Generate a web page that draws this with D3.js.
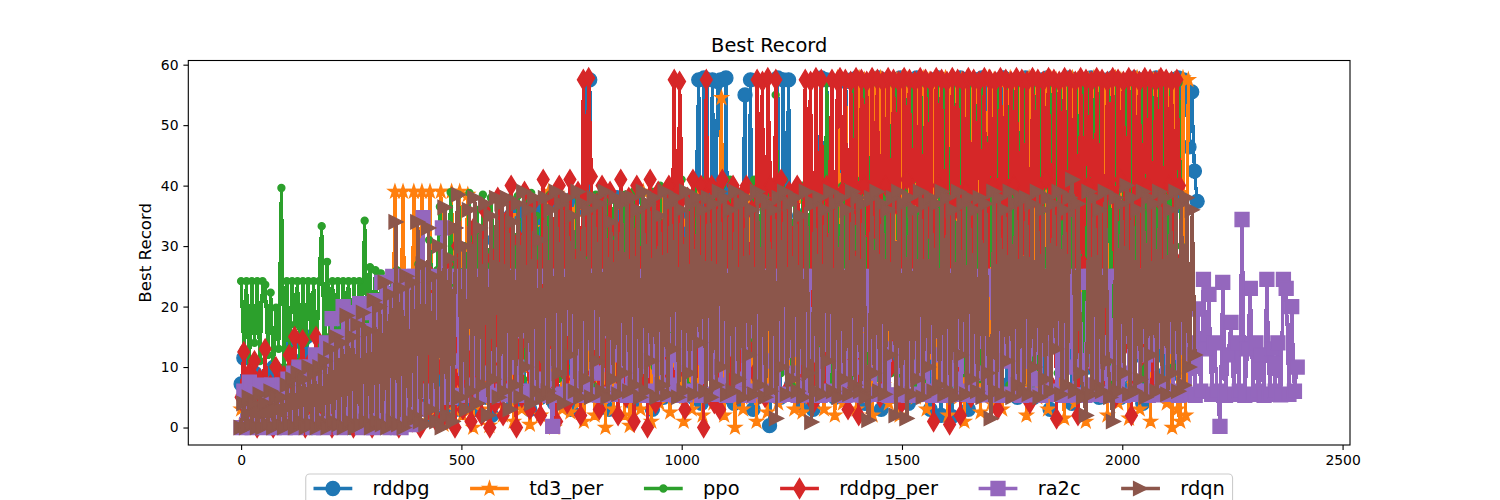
<!DOCTYPE html>
<html>
<head>
<meta charset="utf-8">
<script src="https://cdn.jsdelivr.net/npm/d3@7"></script>
<style>
  body { margin: 0; background: #fff; }
  svg { font-family: "DejaVu Sans", sans-serif; }
</style>
</head>
<body>
<div id="chart"></div>
<script>
// series names, colours, and how many episodes each run recorded
const seriesNames = ['rddpg', 'td3_per', 'ppo', 'rddpg_per', 'ra2c', 'rdqn'];
const seriesColors = ['#1f77b4', '#ff7f0e', '#2ca02c', '#d62728', '#9467bd', '#8c564b'];
const lastEpisode = [2170, 2150, 2140, 2130, 2397, 2165];
const xTicks = [0, 500, 1000, 1500, 2000, 2500];
const yTicks = [0, 10, 20, 30, 40, 50, 60];

const rddpg = [
  7.2, 11.5, 3, 6, 1, 9, 4, 8, 2, 5, 8, 0, 10, 3, 6, 9,
  2, 9, 5, 14, 1, 7, 11, 3, 15, 6, 0, 10, 4, 12, 2, 8,
  5, 13, 1, 9, 16, 3, 7, 11, 0, 14, 6, 2, 10, 17, 4, 8,
  12, 1, 6, 18, 3, 9, 15, 0, 11, 5, 19, 2, 8, 14, 4, 20,
  1, 10, 22, 3, 7, 16, 1.5, 12, 24, 5, 9, 2, 18, 6, 25, 3,
  14, 27, 4, 20, 8, 30, 3, 17, 11, 28, 5, 22, 2, 31, 9, 15,
  33, 6, 19, 35, 4, 26, 10, 36, 7, 23, 3, 34, 13, 37, 5, 21,
  38, 9, 29, 4, 37, 15, 6, 33, 24, 3, 38, 11, 30, 7, 36, 57.5,
  57.5, 8, 36, 5, 27, 37, 12, 3, 32, 18, 38, 6, 25, 35, 9, 30,
  4, 38, 14, 29, 7, 36, 21, 3, 37, 10, 33, 5, 26, 38, 8, 31,
  6, 38, 12, 35, 9, 30, 5, 37, 57.5, 4, 57.8, 57.5, 9, 57.5, 30, 57.2,
  57.5, 5, 57.8, 12, 36, 4, 20, 8, 33, 55, 6, 57.5, 3, 25, 9, 31,
  9, 36, 0.3, 22, 14, 57.8, 5, 57.5, 25, 57.5, 7, 30, 12, 35, 4, 18,
  10, 33, 3, 27, 35, 57.8, 8, 57.5, 19, 30, 5, 37, 57.5, 12, 57.2, 6,
  57.5, 20, 57.8, 7, 57.5, 4, 57.2, 30, 57.5, 9, 57.8, 3, 57.5, 26, 57.2, 11,
  57.5, 5, 57.8, 30, 57.2, 4, 57.5, 12, 57.8, 8, 57.5, 36, 57.2, 3, 57.5, 18,
  57.8, 2, 57.5, 8, 57.2, 1.8, 57.5, 25, 57.8, 6, 57.5, 3, 57.2, 14, 57.5, 9,
  57.8, 6, 57.5, 11, 57.2, 4, 57.5, 33, 57.8, 7, 57.5, 22, 57.2, 5, 57.5, 10,
  57.8, 7, 57.5, 5, 57.2, 18, 57.5, 9, 57.8, 3, 57.5, 28, 57.2, 6, 57.5, 14,
  57.8, 4, 57.5, 28, 57.2, 6, 57.5, 10, 57.8, 35, 57.5, 5, 57.2, 16, 57.5, 8,
  57.8, 8, 57.5, 5, 57.2, 36, 57.5, 7, 57.8, 12, 57.5, 4, 57.2, 24, 57.5, 9,
  57.8, 12, 57.5, 6, 57.2, 30, 57.5, 9, 57.8, 55.5, 57.5, 53.8, 46.4, 55.5, 42.4, 37.4
];

const td3_per = [
  3, 5, 1, 4, 0, 6, 2, 3, 5, 1, 7, 0, 4, 2, 6, 1,
  3, 0, 5, 2, 8, 1, 4, 6, 0, 3, 7, 2, 5, 1, 9, 3,
  0, 6, 2, 10, 4, 1, 8, 3, 0, 5, 11, 2, 7, 1, 4, 9,
  2, 12, 0, 6, 3, 15, 1, 8, 4, 39, 2, 10, 39, 5, 14, 3,
  39, 1, 18, 39, 6, 2, 39, 11, 4, 20, 39, 0.5, 9, 15, 39, 3,
  7, 39, 2, 22, 38.5, 5, 0, 13, 27, 3, 18, 8, 0.3, 24, 11, 4,
  30, 2, 16, 6, 35, 1, 21, 9, 3, 28, 14, 0.5, 33, 7, 19, 2,
  25, 5, 39, 11, 0, 38.7, 18, 3, 30, 8, 2.5, 22, 36, 4, 15, 1,
  27, 6, 34, 2, 19, 9, 38, 0, 24, 13, 3, 31, 7, 37, 2, 17,
  0.3, 35, 10, 26, 3, 39, 6, 20, 1, 32, 14, 4, 37, 8, 23, 2.5,
  29, 5, 38, 11, 1, 34, 17, 3, 26, 8, 39, 2, 21, 13, 36, 4,
  30, 9, 54.5, 2, 24, 6, 37, 0, 35, 15, 3, 28, 39, 5, 19, 1,
  31, 7, 37, 2.5, 23, 11, 35, 4, 36, 14, 28, 6, 27, 3, 38, 10,
  2.5, 33, 22, 5, 36, 37, 8, 30, 3, 30, 38, 12, 2, 57.8, 26, 4,
  57.5, 9, 57.2, 30, 3, 57.8, 15, 57.5, 6, 57.2, 2, 57.5, 24, 57.8, 7, 57.5,
  4, 57.2, 19, 57.5, 2, 57.8, 33, 57.5, 8, 57.2, 5, 57.5, 27, 57.8, 3, 57.5,
  12, 57.2, 6, 57.5, 36, 57.8, 2, 57.5, 18, 57.2, 5, 57.5, 1, 57.8, 25, 57.5,
  7, 57.2, 2.5, 57.5, 28, 57.8, 4, 57.5, 13, 57.2, 3, 57.5, 31, 57.8, 6, 57.5,
  57.2, 9, 57.5, 2, 57.8, 35, 57.5, 5, 57.2, 16, 57.5, 3, 57.8, 22, 57.5, 7,
  57.2, 1.5, 57.5, 20, 57.8, 4, 57.5, 11, 57.2, 1, 57.5, 29, 57.8, 6, 57.5, 8,
  57.2, 2, 57.5, 14, 57.8, 4, 57.5, 33, 57.2, 1.5, 57.5, 7, 57.8, 3, 57.5, 25,
  57.2, 1, 57.5, 18, 57.8, 38.4, 57.5, 4, 57.2, 0, 57.5, 3, 1, 57.8, 2, 57.5
];

const ppo = [
  24.2, 13, 24.2, 9, 24.2, 14, 24.2, 11, 24.2, 23.6, 12, 22.3, 10, 19.8, 13, 39.6,
  10, 24.2, 13, 24.2, 17, 24.2, 11, 24.2, 14, 24.2, 15, 24.2, 9, 24.2, 33.3, 12,
  27.4, 15, 24.2, 16, 24.2, 13, 24.2, 18, 24.2, 14, 24.2, 12, 24.2, 16, 34.2, 15,
  26.5, 14, 26, 12, 25.5, 18, 24.2, 13, 25, 15, 26, 12, 25.5, 20, 24.2, 14,
  13, 25, 27, 16, 25, 9, 31, 25, 14, 26, 36.5, 12, 25, 19, 38.9, 15,
  24, 38.5, 11, 30, 18, 38.8, 10, 26, 36, 14, 38.5, 22, 9, 38, 28, 13,
  38.5, 17, 33, 9, 38, 24, 12, 38.3, 29, 8, 37.5, 20, 38.8, 11, 35, 16,
  38, 7, 27, 38.5, 13, 34, 8, 38.2, 21, 10, 38, 30, 6, 38.5, 17, 25,
  9, 38, 31, 7, 38.5, 19, 36, 12, 38.2, 8, 26, 38, 15, 33, 6, 38.5,
  22, 9, 39, 28, 12, 38.5, 7, 35, 18, 39, 10, 30, 40, 6, 24, 38,
  14, 40, 8, 33, 41, 19, 7, 38, 27, 40, 11, 35, 6, 41, 22, 12,
  39, 9, 30, 40, 15, 7, 41, 25, 38, 10, 36, 6, 40, 19, 13, 41,
  8, 28, 40, 11, 40, 19, 6, 55, 35, 9, 41, 14, 38, 7, 38, 24,
  10, 40, 33, 6, 41, 20, 39, 8, 39, 13, 57, 27, 7, 40, 38, 11,
  40, 15, 38, 7, 57, 24, 10, 41, 57, 6, 30, 57, 12, 39, 8, 57,
  20, 57, 9, 40, 57, 14, 6, 57, 33, 11, 57, 7, 41, 57, 18, 8,
  57, 27, 6, 57, 39, 10, 57, 15, 41, 57, 7, 22, 57, 9, 38, 57,
  12, 57, 35, 8, 57, 11, 40, 57, 6, 28, 57, 14, 39, 57, 7, 57,
  22, 57, 9, 39, 57, 13, 7, 57, 41, 10, 57, 25, 6, 57, 36, 57,
  9, 57, 29, 12, 57, 40, 6, 57, 18, 57, 8, 38, 57, 11, 57, 31,
  57, 10, 38, 57, 7, 41, 57, 25, 9, 57, 33, 6, 57, 14, 40, 57,
  8, 57, 36, 57, 12, 40, 57, 7, 57, 22, 57, 10, 39, 57, 30, 16
];

const rddpg_per = [
  5, 12.5, 3, 9, 1, 11, 0, 8, 4, 13, 2, 7, 0, 10, 3, 6,
  8.5, 1, 12, 4, 15, 2, 9, 14.5, 0, 7, 11, 3, 15, 1, 6, 10,
  2, 13, 0, 8, 5, 14, 1, 9, 3, 12, 0, 6, 10, 2, 15, 4,
  9, 0, 13, 3, 16, 1, 7, 11, 2, 18, 5, 0, 14, 3, 9, 20,
  1, 12, 22, 0, 8, 17, 3, 25, 6, 1, 19, 10, 2, 27, 5, 14,
  0, 30, 8, 3, 23, 12, 1, 33, 6, 18, 2, 36, 9, 0, 28, 4,
  38, 11, 2, 34, 7, 40, 15, 0, 31, 5, 39, 21, 3, 37, 9, 26,
  2, 41, 13, 6, 38, 24, 1, 40, 10, 35, 4, 41, 17, 8, 39, 2,
  57.5, 30, 57.8, 41.5, 9, 37, 3, 40, 18, 6, 39, 12, 33, 2, 41, 22,
  5, 38, 14, 1, 40, 27, 8, 36, 0, 41, 19, 4, 39, 11, 33, 6,
  40, 21, 57.5, 9, 57.2, 38, 3, 38, 15, 41, 6, 30, 40, 0, 57.5, 12,
  40, 4, 39, 3, 41, 18, 36, 8, 40, 25, 38, 7, 39, 40, 13, 36,
  9, 57.5, 38, 57.2, 5, 57.8, 40, 20, 57.5, 11, 41, 36, 6, 39, 30, 14,
  40, 28, 8, 57.5, 38, 57.2, 4, 57.8, 23, 57.5, 7, 40, 38, 57.5, 12, 57.2,
  57.8, 39, 57.5, 3, 57.2, 28, 57.8, 2, 57.5, 40, 57.2, 9, 57.8, 33, 57.5, 5,
  57.2, 40, 57.8, 10, 57.5, 37, 57.2, 4, 57.8, 41, 57.5, 15, 57.2, 38, 57.8, 6,
  57.5, 33, 57.2, 1, 57.8, 40, 57.5, 8, 57.2, 0.5, 57.8, 36, 57.5, 2, 57.2, 39,
  57.8, 5, 57.5, 37, 57.2, 22, 57.8, 9, 57.5, 40, 57.2, 3, 57.8, 31, 57.5, 12,
  57.2, 40, 57.8, 9, 57.5, 30, 57.2, 4, 57.8, 38, 57.5, 15, 57.2, 41, 57.8, 7,
  57.5, 1.5, 57.2, 36, 57.8, 6, 57.5, 39, 57.2, 2, 57.8, 27, 57.5, 40, 57.2, 10,
  57.8, 25, 57.5, 8, 57.2, 39, 57.8, 5, 57.5, 41, 57.2, 14, 57.8, 2, 57.5, 37,
  57.2, 12, 57.8, 40, 57.5, 7, 57.2, 38, 57.8, 20, 57.5, 40, 57.2, 28, 57.5, 40
];

const ra2c = [
  0, 6, 0.5, 7.5, 0, 6, 1, 7, 0, 5, 0.5, 7, 0, 6, 1, 7,
  0, 8, 0.5, 9, 0, 10, 1, 9, 0.5, 10, 0, 12, 1, 9, 0, 14,
  0.5, 18, 1, 15, 0, 20, 2, 19, 0.5, 17, 1, 20.5, 0, 16, 2, 19,
  0, 21, 1, 24, 0.5, 22, 0, 25, 2, 23, 0, 25, 1, 24, 0.5, 25,
  3, 25, 34.7, 6, 24, 20, 4, 25, 16, 33, 5.5, 25, 5, 22, 25, 11,
  5.3, 24, 18, 25, 7, 14, 25, 5.5, 21, 25, 9, 5.3, 23, 25, 12, 6,
  25, 5.4, 19, 25, 10, 5.3, 24, 16, 25, 6, 21, 5.5, 25, 13, 8, 25,
  5.3, 0.2, 25, 11, 24, 5.5, 18, 25, 6, 22, 5.3, 25, 14, 7, 25, 5.4,
  25, 9, 21, 5.3, 25, 16, 5.5, 24, 12, 25, 6, 19, 5.3, 25, 8, 23,
  5.4, 25, 13, 5.3, 24, 20, 6, 25, 10, 5.5, 25, 17, 7, 24, 5.3, 25,
  11, 5.4, 25, 22, 6, 25, 15, 5.3, 24, 9, 25, 5.5, 19, 25, 7, 25,
  5.3, 25, 13, 24, 5.5, 25, 8, 20, 5.3, 25, 16, 6, 25, 11, 5.4, 24,
  25, 6, 22, 5.3, 25, 15, 5.5, 25, 9, 24, 5.3, 18, 25, 7, 25, 5.4,
  24, 12, 5.3, 25, 20, 6, 25, 5.5, 14, 25, 8, 5.3, 24, 25, 10, 5.4,
  25, 17, 5.3, 24, 9, 25, 5.5, 21, 25, 6, 13, 5.3, 25, 19, 5.4, 25,
  7, 25, 5.3, 23, 25, 10, 5.5, 25, 16, 6, 24, 5.3, 25, 12, 5.4, 25,
  5.3, 25, 8, 21, 25, 5.5, 14, 25, 6, 24, 5.3, 18, 25, 9, 5.4, 25,
  25, 6, 24, 5.3, 25, 11, 17, 5.5, 25, 7, 22, 5.3, 25, 13, 5.4, 24,
  8, 25, 5.3, 22, 25, 6, 15, 25, 5.5, 19, 25, 5.3, 10, 25, 5.4, 24,
  25, 11, 5.3, 24, 25, 7, 20, 5.5, 25, 14, 5.3, 25, 9, 5.4, 25, 16,
  5.3, 25, 9, 25, 5.5, 23, 6, 25, 12, 5.3, 24, 18, 5.4, 25, 7, 25,
  5.5, 24, 6, 25, 5.3, 23, 6, 25, 5.5, 14, 5.3, 19.6, 6, 24.5, 13, 22,
  5.5, 14, 6, 0.2, 24, 5.3, 12, 17.4, 5.5, 14, 6, 34.4, 5.3, 13, 23, 5.5,
  14, 6, 12, 5.3, 24.5, 5.5, 13, 6, 14, 5.4, 24.5, 23, 5.5, 20, 6, 10
];

const rdqn = [
  0, 4, 0, 5, 0.5, 4, 0, 5.5, 0, 4, 0.5, 6, 0, 5, 0.5, 5,
  0, 7, 0.5, 8, 0, 9, 1, 8, 0, 10, 0.5, 9, 0, 10, 1, 11,
  0, 13, 1, 15, 0.5, 14, 0, 18.5, 1, 15, 0, 17, 0.5, 19, 1, 16,
  0, 21, 1, 20, 0.5, 24, 0, 22, 1, 34, 0.5, 23, 0, 25, 1, 24,
  2, 34, 1, 27, 0.5, 33, 3, 25, 1, 30, 0, 36.4, 2, 28, 1, 33,
  38.5, 5, 30, 3, 36, 6, 38, 4, 33, 7, 37, 2, 35, 8, 38, 5,
  37, 6, 38, 3, 34, 7, 37, 5, 39, 10, 36, 4, 38, 6, 31, 5,
  38, 6, 36, 5, 39, 9, 37, 4, 38, 12, 35, 6, 39, 5, 37, 8,
  36, 5, 38, 11, 37, 6, 39, 5, 34, 8, 38, 5.5, 37, 9, 38, 6,
  38, 7, 36, 5, 39, 6, 37, 11, 38, 5, 35, 7, 39, 5.5, 37, 13,
  38, 5, 36, 6, 39, 9, 37, 5.5, 38, 14, 36, 6, 38, 5, 37, 7,
  39, 10, 38, 5.5, 36, 6, 39, 8, 37, 5, 38, 12, 36, 5.5, 39, 7,
  38, 5, 37, 6, 36, 1.5, 38, 10, 39, 5.5, 37, 8, 38, 6, 35, 5,
  39, 9, 0.9, 37, 6, 38, 5.5, 36, 11, 39, 6, 37, 5, 38, 8, 36,
  5.5, 39, 7, 38, 6, 37, 5, 1.2, 38, 9, 39, 6, 37, 5.5, 36, 12,
  38, 2, 39, 6, 37, 1.5, 38, 5.5, 36, 8, 39, 5, 37, 10, 38, 6,
  37, 7, 39, 5.5, 38, 6, 36, 5, 39, 12, 37, 5.5, 38, 8, 36, 6,
  38, 5, 37, 9, 1.5, 39, 6, 38, 5.5, 36, 11, 39, 5, 37, 7, 38,
  6, 38, 5.5, 37, 10, 39, 5, 36, 8, 38, 6, 37, 13, 39, 5.5, 36,
  7, 38, 41, 6, 37, 9, 5, 2, 39, 5.5, 38, 7, 36, 6, 39, 11,
  5, 1, 38, 6, 37, 9, 40, 5.5, 38, 6, 36, 8, 39, 5, 38, 12,
  37, 6, 39, 8, 38, 5.5, 36, 9, 39, 6, 37, 7, 38, 10, 36, 12
];

const seriesValues = [rddpg, td3_per, ppo, rddpg_per, ra2c, rdqn];

const width = 1500, height = 500;
const plot = { left: 188.3, right: 1350, top: 60.5, bottom: 445 };
const ms = 13.9;   // marker size (10pt)
const lw = 3.3;    // line width

// episodes are spread evenly over each run
const series = seriesNames.map((name, k) => {
  const vals = seriesValues[k];
  const n = vals.length;
  return {
    name,
    color: seriesColors[k],
    points: vals.map((v, i) => ({ ep: i * lastEpisode[k] / (n - 1), v }))
  };
});

// matplotlib-like 5% margins
const allEp = series.flatMap(s => s.points.map(p => p.ep));
const allV = series.flatMap(s => s.points.map(p => p.v));
const [ex0, ex1] = d3.extent(allEp);
const [vy0, vy1] = d3.extent(allV);
const xPad = (ex1 - ex0) * 0.05, yPad = (vy1 - vy0) * 0.05;

const x = d3.scaleLinear().domain([ex0 - xPad, ex1 + xPad]).range([plot.left, plot.right]);
const y = d3.scaleLinear().domain([vy0 - yPad, vy1 + yPad]).range([plot.bottom, plot.top]);

// marker shapes, centred on 0,0
const starPath = (r) => {
  const inner = r * 0.381966;
  let d = '';
  for (let i = 0; i < 10; i++) {
    const rr = i % 2 === 0 ? r : inner;
    const a = -Math.PI / 2 + i * Math.PI / 5;
    d += (i === 0 ? 'M' : 'L') + (rr * Math.cos(a)).toFixed(2) + ',' + (rr * Math.sin(a)).toFixed(2);
  }
  return d + 'Z';
};
const circlePath = (r) => `M${-r},0A${r},${r} 0 1,0 ${r},0A${r},${r} 0 1,0 ${-r},0Z`;
const markerShapes = [
  circlePath(ms / 2),
  starPath(ms / 2),
  circlePath(ms / 4),
  (() => { const h = 0.7071 * ms, w = 0.6 * h; return `M0,${-h}L${w},0L0,${h}L${-w},0Z`; })(),
  (() => { const h = ms / 2; return `M${-h},${-h}L${h},${-h}L${h},${h}L${-h},${h}Z`; })(),
  (() => { const h = ms / 2; return `M${h},0L${-h},${-h}L${-h},${h}Z`; })()
];

const svg = d3.select('#chart')
  .append('svg')
  .attr('width', width)
  .attr('height', height);

svg.append('defs').append('clipPath').attr('id', 'clip')
  .append('rect')
  .attr('x', plot.left).attr('y', plot.top)
  .attr('width', plot.right - plot.left).attr('height', plot.bottom - plot.top);

const line = d3.line().x(d => x(d.ep)).y(d => y(d.v));

const layer = svg.append('g').attr('clip-path', 'url(#clip)');

series.forEach((s, k) => {
  const g = layer.append('g');
  // crisp edges so the dense zigzag reads as a solid band, as in the original
  g.append('path')
    .datum(s.points)
    .attr('d', line)
    .attr('fill', 'none')
    .attr('stroke', s.color)
    .attr('stroke-width', lw)
    .attr('stroke-linejoin', 'round')
    .attr('stroke-linecap', 'square')
    .attr('shape-rendering', 'crispEdges');
  g.selectAll('path.mk')
    .data(s.points)
    .enter()
    .append('path')
    .attr('class', 'mk')
    .attr('d', markerShapes[k])
    .attr('transform', d => `translate(${x(d.ep)},${y(d.v)})`)
    .attr('fill', s.color)
    .attr('stroke', s.color)
    .attr('stroke-width', 1.39);
});

// axes
const xAxis = svg.append('g')
  .attr('transform', `translate(0,${plot.bottom})`)
  .call(d3.axisBottom(x).tickValues(xTicks).tickFormat(d3.format('d')).tickSize(4.9).tickPadding(4.9));
const yAxis = svg.append('g')
  .attr('transform', `translate(${plot.left},0)`)
  .call(d3.axisLeft(y).tickValues(yTicks).tickFormat(d3.format('d')).tickSize(4.9).tickPadding(4.9));
[xAxis, yAxis].forEach(a => {
  a.select('.domain').remove();
  a.selectAll('line').attr('stroke', '#000').attr('stroke-width', 1.1);
  a.selectAll('text').attr('fill', '#000').attr('font-size', '13.9px')
    .attr('font-family', '"DejaVu Sans", sans-serif');
});

svg.append('rect')
  .attr('x', plot.left).attr('y', plot.top)
  .attr('width', plot.right - plot.left).attr('height', plot.bottom - plot.top)
  .attr('fill', 'none').attr('stroke', '#000').attr('stroke-width', 1.1);

// title and axis label
svg.append('text')
  .attr('x', (plot.left + plot.right) / 2).attr('y', plot.top - 8.3)
  .attr('text-anchor', 'middle').attr('font-size', '19.4px')
  .text('Best Record');

svg.append('text')
  .attr('transform', `translate(151,${(plot.top + plot.bottom) / 2}) rotate(-90)`)
  .attr('text-anchor', 'middle').attr('font-size', '16.7px')
  .text('Best Record');

// legend under the plot, one row
const fs = 19.4;
const handleLen = 2 * fs, textPad = 20.3, colSpace = 40.6, borderPad = 0.4 * fs;
const legend = svg.append('g');
const legendTop = 474;
const rowY = 488.5;

const frame = legend.append('rect');
const items = legend.selectAll('g.item')
  .data(series)
  .enter()
  .append('g')
  .attr('class', 'item');
items.append('text')
  .attr('font-size', fs + 'px')
  .attr('y', 6.5)
  .text(d => d.name);

let widths = [];
items.select('text').each(function () { widths.push(this.getComputedTextLength()); });
const total = d3.sum(widths) + series.length * (handleLen + textPad) + (series.length - 1) * colSpace;
let cx = (plot.left + plot.right) / 2 - total / 2;

items.each(function (d, k) {
  const g = d3.select(this).attr('transform', `translate(${cx},${rowY})`);
  g.append('line')
    .attr('x1', 0).attr('x2', handleLen).attr('y1', 0).attr('y2', 0)
    .attr('stroke', d.color).attr('stroke-width', lw);
  g.append('path')
    .attr('d', markerShapes[k])
    .attr('transform', `translate(${handleLen / 2},0)`)
    .attr('fill', d.color).attr('stroke', d.color).attr('stroke-width', 1.39);
  g.select('text').attr('x', handleLen + textPad).raise();
  cx += handleLen + textPad + widths[k] + colSpace;
});

const boxX = (plot.left + plot.right) / 2 - total / 2 - borderPad;
frame
  .attr('x', boxX).attr('y', legendTop)
  .attr('width', total + 2 * borderPad).attr('height', 2 * borderPad + 26)
  .attr('rx', 4)
  .attr('fill', 'rgba(255,255,255,0.8)')
  .attr('stroke', '#cccccc').attr('stroke-width', 1.1);
</script>
</body>
</html>
